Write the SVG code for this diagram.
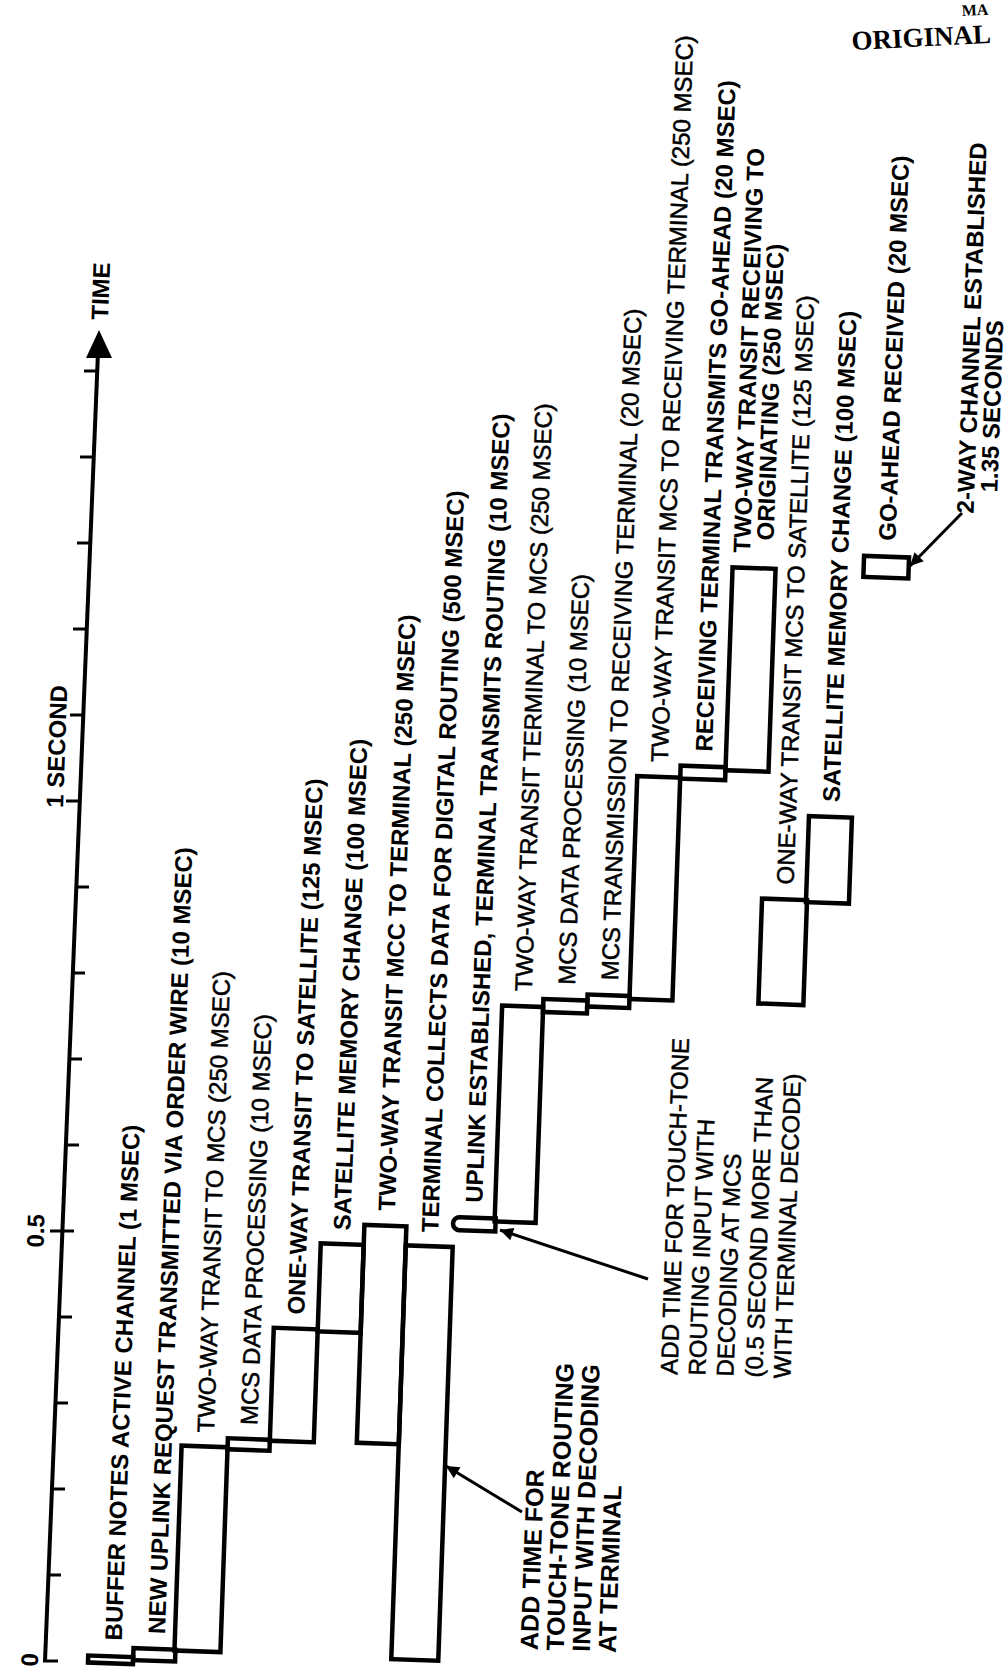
<svg xmlns="http://www.w3.org/2000/svg" width="1007" height="1670" viewBox="0 0 1007 1670">
<defs>
<style>
.box{fill:none;stroke:#000;stroke-width:4.5;stroke-linejoin:miter}
.t{font-family:"Liberation Sans",Arial,sans-serif;font-size:24px;fill:#000}
.b{font-weight:bold}
.r{stroke:#000;stroke-width:0.5}
.ax{stroke:#000;stroke-width:4;fill:none}
.tk{stroke:#000;stroke-width:3}
.ar{stroke:#000;stroke-width:3;fill:none}
.st{font-family:"Liberation Serif","Times New Roman",serif;font-weight:bold;fill:#000}
</style>
<marker id="ah" viewBox="0 0 10 10" refX="10" refY="5" markerWidth="24" markerHeight="13" markerUnits="userSpaceOnUse" orient="auto"><path d="M0,0 L10,5 L0,10 Z" fill="#000"/></marker>
</defs>
<rect width="1007" height="1670" fill="#fff"/>

<g id="axis">
<line class="ax" x1="45" y1="1661" x2="98" y2="352"/>
<polygon points="99,330 86,358 112,358" fill="#000"/>
<line class="tk" x1="43" y1="1661" x2="58" y2="1661"/>
<line class="tk" x1="48" y1="1575" x2="61" y2="1575"/>
<line class="tk" x1="52" y1="1489" x2="65" y2="1489"/>
<line class="tk" x1="55" y1="1403" x2="68" y2="1403"/>
<line class="tk" x1="59" y1="1317" x2="72" y2="1317"/>
<line class="tk" x1="50" y1="1231" x2="74" y2="1231"/>
<line class="tk" x1="66" y1="1145" x2="79" y2="1145"/>
<line class="tk" x1="69" y1="1059" x2="82" y2="1059"/>
<line class="tk" x1="72" y1="973" x2="85" y2="973"/>
<line class="tk" x1="76" y1="887" x2="89" y2="887"/>
<line class="tk" x1="66" y1="801" x2="80" y2="801"/>
<line class="tk" x1="70" y1="715" x2="83" y2="715"/>
<line class="tk" x1="73" y1="629" x2="86" y2="629"/>
<line class="tk" x1="77" y1="543" x2="90" y2="543"/>
<line class="tk" x1="80" y1="457" x2="93" y2="457"/>
<line class="tk" x1="84" y1="371" x2="97" y2="371"/>
<text class="t b" text-anchor="middle" transform="translate(38 1660) rotate(-88)">0</text>
<text class="t b" text-anchor="middle" transform="translate(44 1231) rotate(-88)">0.5</text>
<text class="t b" transform="translate(63 808) rotate(-88)">1 SECOND</text>
<text class="t b" transform="translate(108 320) rotate(-88)">TIME</text>
</g>

<g id="chart" transform="rotate(2 45 1661)">
<g id="n1"><rect class="box" x="88" y="1654" width="45" height="7"/><text class="t b" transform="translate(121 1638) rotate(-90)">BUFFER NOTES ACTIVE CHANNEL (1 MSEC)</text></g>
<g id="n2"><rect class="box" x="133" y="1645" width="42" height="12"/><text class="t b" transform="translate(164 1630) rotate(-90)">NEW UPLINK REQUEST TRANSMITTED VIA ORDER WIRE (10 MSEC)</text></g>
<g id="n3"><rect class="box" x="174" y="1441" width="46" height="205"/><text class="t r" transform="translate(206 1427) rotate(-90)">TWO-WAY TRANSIT TO MCS (250 MSEC)</text></g>
<g id="n4"><rect class="box" x="220" y="1432" width="42" height="11"/><text class="t r" transform="translate(249 1418) rotate(-90)">MCS DATA PROCESSING (10 MSEC)</text></g>
<g id="n5"><rect class="box" x="262" y="1320" width="44" height="113"/><text class="t b" transform="translate(292 1306) rotate(-90)">ONE-WAY TRANSIT TO SATELLITE (125 MSEC)</text></g>
<g id="n6"><rect class="box" x="306" y="1234" width="43" height="88"/><text class="t b" transform="translate(335 1220) rotate(-90)">SATELLITE MEMORY CHANGE (100 MSEC)</text></g>
<g id="n7"><rect class="box" x="349" y="1214" width="42" height="218"/><text class="t b" transform="translate(379 1199) rotate(-90)">TWO-WAY TRANSIT MCC TO TERMINAL (250 MSEC)</text></g>
<g id="n8"><rect class="box" x="391" y="1233" width="47" height="414"/><text class="t b" transform="translate(423 1219) rotate(-90)">TERMINAL COLLECTS DATA FOR DIGITAL ROUTING (500 MSEC)</text></g>
<g id="n9"><path class="box" d="M480,1203 H444 A6.5,6.5 0 0 0 444,1216 H480 Z"/><text class="t b" transform="translate(466 1188) rotate(-90)">UPLINK ESTABLISHED, TERMINAL TRANSMITS ROUTING (10 MSEC)</text></g>
<g id="n10"><rect class="box" x="479" y="990" width="41" height="216"/><text class="t r" transform="translate(508 975) rotate(-90)">TWO-WAY TRANSIT TERMINAL TO MCS (250 MSEC)</text></g>
<g id="n11"><rect class="box" x="520" y="982" width="44" height="13"/><text class="t r" transform="translate(551 967) rotate(-90)">MCS DATA PROCESSING (10 MSEC)</text></g>
<g id="n12"><rect class="box" x="564" y="976" width="42" height="12"/><text class="t r" transform="translate(594 961) rotate(-90)">MCS TRANSMISSION TO RECEIVING TERMINAL (20 MSEC)</text></g>
<g id="n13"><rect class="box" x="606" y="756" width="43" height="223"/><text class="t r" transform="translate(636 741) rotate(-90)">TWO-WAY TRANSIT MCS TO RECEIVING TERMINAL (250 MSEC)</text></g>
<g id="n14"><rect class="box" x="649" y="744" width="45" height="13"/><text class="t b" transform="translate(680 729) rotate(-90)">RECEIVING TERMINAL TRANSMITS GO-AHEAD (20 MSEC)</text></g>
<g id="n15"><rect class="box" x="694" y="544" width="43" height="203"/><text class="t b" transform="translate(711 529) rotate(-90)">TWO-WAY TRANSIT RECEIVING TO</text><text class="t b" transform="translate(734 516) rotate(-90)">ORIGINATING (250 MSEC)</text></g>
<g id="n16"><rect class="box" x="735" y="874" width="45" height="105"/><text class="t r" transform="translate(766 859) rotate(-90)">ONE-WAY TRANSIT MCS TO SATELLITE (125 MSEC)</text></g>
<g id="n17"><rect class="box" x="779" y="790" width="43" height="86"/><text class="t b" transform="translate(809 775) rotate(-90)">SATELLITE MEMORY CHANGE (100 MSEC)</text></g>
<g id="n18"><rect class="box" x="825" y="528" width="45" height="21"/><text class="t b" transform="translate(856 512) rotate(-90)">GO-AHEAD RECEIVED (20 MSEC)</text></g>
<g id="note-established"><text class="t b" transform="translate(933 482) rotate(-90)">2-WAY CHANNEL ESTABLISHED</text><text class="t b" transform="translate(956 460) rotate(-90)">1.35 SECONDS</text></g>
<g id="note-terminal" class="t b" style="font-size:25px">
<text transform="translate(537 1633) rotate(-90)">ADD TIME FOR</text>
<text transform="translate(563 1633) rotate(-90)">TOUCH-TONE ROUTING</text>
<text transform="translate(589 1633) rotate(-90)">INPUT WITH DECODING</text>
<text transform="translate(615 1633) rotate(-90)">AT TERMINAL</text>
</g>
<g id="note-mcs" class="t r">
<text transform="translate(667 1353) rotate(-90)">ADD TIME FOR TOUCH-TONE</text>
<text transform="translate(695 1353) rotate(-90)">ROUTING INPUT WITH</text>
<text transform="translate(723 1353) rotate(-90)">DECODING AT MCS</text>
<text transform="translate(752 1353) rotate(-90)">(0.5 SECOND MORE THAN</text>
<text transform="translate(780 1353) rotate(-90)">WITH TERMINAL DECODE)</text>
</g>
</g>

<g id="connectors">
<path class="ar" d="M522,1512 L446,1466" marker-end="url(#ah)"/>
<path class="ar" d="M648,1279 L500,1230" marker-end="url(#ah)"/>
<path class="ar" d="M962,513 L910,566" marker-end="url(#ah)"/>
</g>

<g id="stamp">
<text class="st" font-size="16" x="962" y="16" transform="rotate(-3 962 16)">MA</text>
<text class="st" font-size="27" x="852" y="50" transform="rotate(-3 852 50)">ORIGINAL</text>
</g>
</svg>
